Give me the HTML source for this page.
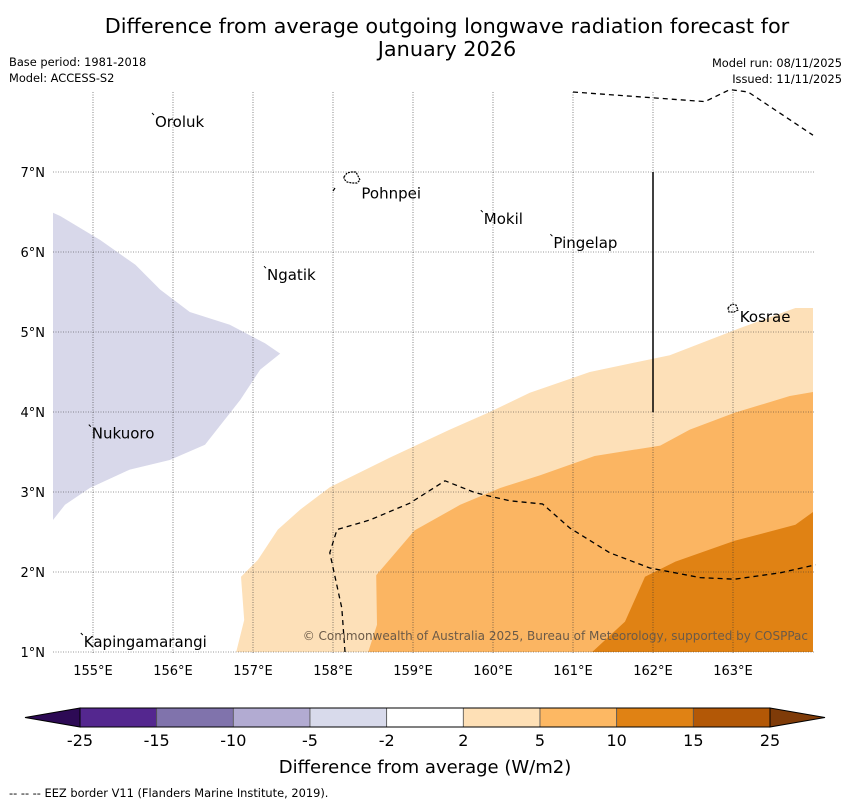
<!DOCTYPE html>
<html><head><meta charset="utf-8"><style>
body{margin:0;background:#fff;width:850px;height:804px;overflow:hidden;font-family:"Liberation Sans","DejaVu Sans",sans-serif}
svg text{font-family:"DejaVu Sans","Liberation Sans",sans-serif}
</style></head><body>
<svg id="chart" width="850" height="804" xmlns="http://www.w3.org/2000/svg">
<text x="447" y="33" font-size="20.8" text-anchor="middle">Difference from average outgoing longwave radiation forecast for</text>
<text x="447" y="56" font-size="20.8" text-anchor="middle">January 2026</text>
<text x="9" y="66" font-size="11.4">Base period: 1981-2018</text>
<text x="9" y="82" font-size="11.4">Model: ACCESS-S2</text>
<text x="842" y="67" font-size="11.4" text-anchor="end">Model run: 08/11/2025</text>
<text x="842" y="83" font-size="11.4" text-anchor="end">Issued: 11/11/2025</text>
<g id="map"></g>
<g id="cbar"></g>
<text x="425" y="773" font-size="18" text-anchor="middle">Difference from average (W/m2)</text>
<text x="9" y="797" font-size="11.4">--  --  -- EEZ border V11 (Flanders Marine Institute, 2019).</text>
</svg>
<script>
const NS="http://www.w3.org/2000/svg";
const lonTicks=[155,156,157,158,159,160,161,162,163];
const latTicks=[1,2,3,4,5,6,7];
const purpleLon=[154.5,154.59,155.09,155.53,155.84,156.21,156.71,157.15,157.34,157.09,156.84,156.4,155.96,155.46,154.96,154.65,154.5];
const purpleLat=[6.49,6.45,6.15,5.84,5.53,5.25,5.09,4.86,4.73,4.53,4.15,3.59,3.4,3.28,3.05,2.84,2.65];
const lightLon=[156.79,156.89,156.85,157.06,157.31,157.59,157.96,158.71,159.46,159.96,160.46,161.21,162.21,163.09,163.78,164,164];
const lightLat=[1,1.4,1.94,2.15,2.53,2.78,3.06,3.43,3.78,4.0,4.24,4.5,4.71,5.05,5.3,5.3,1];
const midLon=[158.44,158.55,158.54,159.02,159.59,160.09,160.59,161.27,162.09,162.46,163.02,163.71,164,164];
const midLat=[1,1.34,1.96,2.52,2.84,3.05,3.21,3.45,3.58,3.78,3.99,4.2,4.25,1];
const darkLon=[161.24,161.65,161.9,162.28,163.02,163.78,164,164];
const darkLat=[1,1.38,1.94,2.13,2.39,2.59,2.75,1];
const eezLon=[158.15,158.11,157.96,158.05,158.46,158.96,159.4,159.78,160.21,160.62,160.96,161.46,161.96,162.59,163.02,163.59,164.03];
const eezLat=[1,1.55,2.24,2.53,2.65,2.86,3.14,2.99,2.89,2.85,2.55,2.24,2.05,1.93,1.91,1.99,2.09];
const eez2Lon=[161.0,162.65,162.96,163.19,164];
const eez2Lat=[8,7.88,8.03,8,7.46];
const islandNames=["Oroluk","Pohnpei","Mokil","Pingelap","Ngatik","Kosrae","Nukuoro","Kapingamarangi"];
const islandLon=[155.75,158.33,159.86,160.73,157.15,163.06,154.96,154.86];
const islandLat=[7.725,6.83,6.51,6.21,5.81,5.29,3.83,1.225];
const cbLabels=["-25","-15","-10","-5","-2","2","5","10","15","25"];
const cbColors=["#54278f","#8073ac","#b2abd2","#d8daeb","#ffffff","#fee0b6","#fdb863","#e08214","#b35806"];
const X=lon=>53+(lon-154.5)*80, Y=lat=>92+(8-lat)*80;
const map=document.getElementById('map');
function mk(tag,attrs,parent){const e=document.createElementNS(NS,tag);for(const k in attrs)e.setAttribute(k,attrs[k]);(parent||map).appendChild(e);return e;}
function pts(lo,la){return lo.map((v,i)=>X(v)+','+Y(la[i])).join(' ');}
let p;
p=mk('polygon',{points:pts(purpleLon,purpleLat),fill:'#d8d8ea'});


p=mk('polygon',{points:pts(lightLon,lightLat),fill:'#fde0b8'});


p=mk('polygon',{points:pts(midLon,midLat),fill:'#fbb562'});


p=mk('polygon',{points:pts(darkLon,darkLat),fill:'#e08214'});


lonTicks.forEach(l=>{
 const g=mk('line',{x1:X(l),x2:X(l),y1:92,y2:654,stroke:'#333','stroke-width':0.6,'stroke-dasharray':'1,1.5'});
 
 
 const t=mk('text',{x:X(l),y:675,'font-size':13,'text-anchor':'middle'});t.textContent=l+'°E';
 
 
});
latTicks.forEach(l=>{
 const g=mk('line',{x1:53,x2:815,y1:Y(l),y2:Y(l),stroke:'#333','stroke-width':0.6,'stroke-dasharray':'1,1.5'});
 
 
 const t=mk('text',{x:45,y:Y(l)+5,'font-size':13,'text-anchor':'end'});t.textContent=l+'°N';
 
 
});
p=mk('polyline',{points:pts(eezLon,eezLat),fill:'none',stroke:'#000','stroke-width':1.3,'stroke-dasharray':'5,4'});


p=mk('polyline',{points:pts(eez2Lon,eez2Lat),fill:'none',stroke:'#000','stroke-width':1.3,'stroke-dasharray':'5,4'});


p=mk('line',{x1:X(162),x2:X(162),y1:Y(7),y2:Y(4),stroke:'#000','stroke-width':1.5});


p=mk('path',{d:'M344,177 l3,-4 4,-1 5,0 2,4 2,4 -3,3 -5,0 -5,-1 -3,-3z',fill:'none',stroke:'#000','stroke-width':1.2,'stroke-dasharray':'2,1'});


p=mk('line',{x1:333,y1:191,x2:335,y2:188,stroke:'#000','stroke-width':1.2});


p=mk('path',{d:'M728,308 l4,-4 4,1 2,5 -4,2 -5,0z',fill:'none',stroke:'#000','stroke-width':1.2,'stroke-dasharray':'2,1'});


islandNames.forEach((n,i)=>{
 const t=mk('text',{x:X(islandLon[i])+2,y:Y(islandLat[i])+13,'font-size':15});t.textContent=n;
 
 
 if(n!=='Pohnpei'&&n!=='Kosrae'){
 const d=mk('line',{x1:X(islandLon[i])-1,y1:Y(islandLat[i])-1,x2:X(islandLon[i])+1,y2:Y(islandLat[i])+1,stroke:'#000','stroke-width':1});
 
 }
});
p=mk('text',{x:808,y:640,'font-size':12,'text-anchor':'end',fill:'#6b5a48'});p.textContent='© Commonwealth of Australia 2025, Bureau of Meteorology, supported by COSPPac';


const cb=document.getElementById('cbar');
const c0=80,c1=770,cw=(c1-c0)/cbColors.length,cy=708,ch=19;
p=mk('polygon',{points:`${c0},${cy} 25,${cy+ch/2} ${c0},${cy+ch}`,fill:'#2d0a55',stroke:'#000','stroke-width':1},cb);


p=mk('polygon',{points:`${c1},${cy} 825,${cy+ch/2} ${c1},${cy+ch}`,fill:'#7f3b08',stroke:'#000','stroke-width':1},cb);


cbColors.forEach((c,i)=>{
 const r=mk('rect',{x:c0+i*cw,y:cy,width:cw,height:ch,fill:c,stroke:'#555','stroke-width':0.8},cb);
 
 
});
mk('rect',{x:c0,y:cy,width:c1-c0,height:ch,fill:'none',stroke:'#000','stroke-width':1},cb);
cbLabels.forEach((l,i)=>{
 const t=mk('text',{x:c0+i*cw,y:746,'font-size':16,'text-anchor':'middle'},cb);t.textContent=l;
 
 
});
</script>
</body></html>
